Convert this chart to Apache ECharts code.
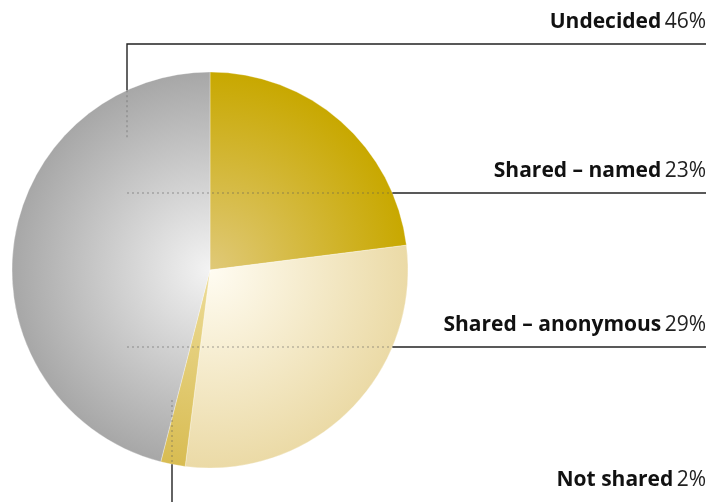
<!DOCTYPE html>
<html>
<head>
<meta charset="utf-8">
<script src="https://cdn.jsdelivr.net/npm/echarts@6/dist/echarts.min.js"></script>
<style>
  html, body { margin: 0; padding: 0; background: #fff; }
  #chart { width: 710px; height: 502px; }
</style>
</head>
<body>
<div id="chart"></div>
<script>
// Survey answers, in clockwise order from 12 o'clock
const categories = ['Shared – named', 'Shared – anonymous', 'Not shared', 'Undecided'];
const shares = [23, 29, 2, 46];

// Label anchor rows (text centre y) for each category
const labelRows = [171, 325, 480, 22];

// Radial shading for each slice: [centre colour, rim colour]
const sliceShades = [
  ['#e0c978', '#c8a800'],
  ['#fffcf2', '#ebdaa6'],
  ['#eddc98', '#d8bc52'],
  ['#f3f3f3', '#a7a7a7']
];

const cx = 210, cy = 270, R = 198;
const right = 706;

const chart = echarts.init(document.getElementById('chart'), null, { renderer: 'canvas' });

function shade(i) {
  return {
    type: 'radial', x: cx, y: cy, r: R, global: true,
    colorStops: [
      { offset: 0, color: sliceShades[i][0] },
      { offset: 1, color: sliceShades[i][1] }
    ]
  };
}

// Edge of the disc for a given horizontal or vertical line
const edgeX = y => cx + Math.sqrt(R * R - (y - cy) * (y - cy));
const edgeYTop = x => cy - Math.sqrt(R * R - (x - cx) * (x - cx));
const edgeYBottom = x => cy + Math.sqrt(R * R - (x - cx) * (x - cx));

const solid = { stroke: '#222', lineWidth: 1.4 };
const dotted = { stroke: 'rgba(90,90,90,0.55)', lineWidth: 1, lineDash: [2, 3] };

const leaderX = 127, notSharedX = 172;
const rowNamed = 193, rowAnon = 347, rowUnd = 44;

const graphics = [
  // Undecided
  { type: 'polyline', z: 10, shape: { points: [[leaderX, edgeYTop(leaderX)], [leaderX, rowUnd], [right, rowUnd]] }, style: solid },
  { type: 'line', z: 10, shape: { x1: leaderX, y1: edgeYTop(leaderX), x2: leaderX, y2: 140 }, style: dotted },
  // Shared – named
  { type: 'line', z: 10, shape: { x1: edgeX(rowNamed), y1: rowNamed, x2: right, y2: rowNamed }, style: solid },
  { type: 'line', z: 10, shape: { x1: leaderX, y1: rowNamed, x2: edgeX(rowNamed), y2: rowNamed }, style: dotted },
  // Shared – anonymous
  { type: 'line', z: 10, shape: { x1: edgeX(rowAnon), y1: rowAnon, x2: right, y2: rowAnon }, style: solid },
  { type: 'line', z: 10, shape: { x1: leaderX, y1: rowAnon, x2: edgeX(rowAnon), y2: rowAnon }, style: dotted },
  // Not shared
  { type: 'line', z: 10, shape: { x1: notSharedX, y1: edgeYBottom(notSharedX), x2: notSharedX, y2: 502 }, style: solid },
  { type: 'line', z: 10, shape: { x1: notSharedX, y1: 400, x2: notSharedX, y2: edgeYBottom(notSharedX) }, style: dotted }
];

// Category labels, right-aligned on the leader rows
categories.forEach((name, i) => {
  graphics.push({
    type: 'text', z: 11,
    x: right, y: labelRows[i],
    style: {
      text: '{b|' + name + '} {v|' + shares[i] + '%}',
      align: 'right',
      verticalAlign: 'middle',
      rich: {
        b: { fontFamily: 'Open Sans', fontWeight: 'bold', fontSize: 21, fill: '#111' },
        v: { fontFamily: 'Open Sans', fontSize: 21, fill: '#222' }
      }
    }
  });
});

chart.setOption({
  animation: false,
  backgroundColor: '#ffffff',
  graphic: graphics,
  series: [{
    type: 'pie',
    center: [cx, cy],
    radius: [0, R],
    startAngle: 90,
    clockwise: true,
    silent: true,
    itemStyle: { borderColor: 'rgba(255,255,255,0.5)', borderWidth: 0.6 },
    data: categories.map((name, i) => ({
      name, value: shares[i],
      itemStyle: { color: shade(i) }
    })),
    label: { show: false },
    labelLine: { show: false }
  }]
});
</script>
</body>
</html>
